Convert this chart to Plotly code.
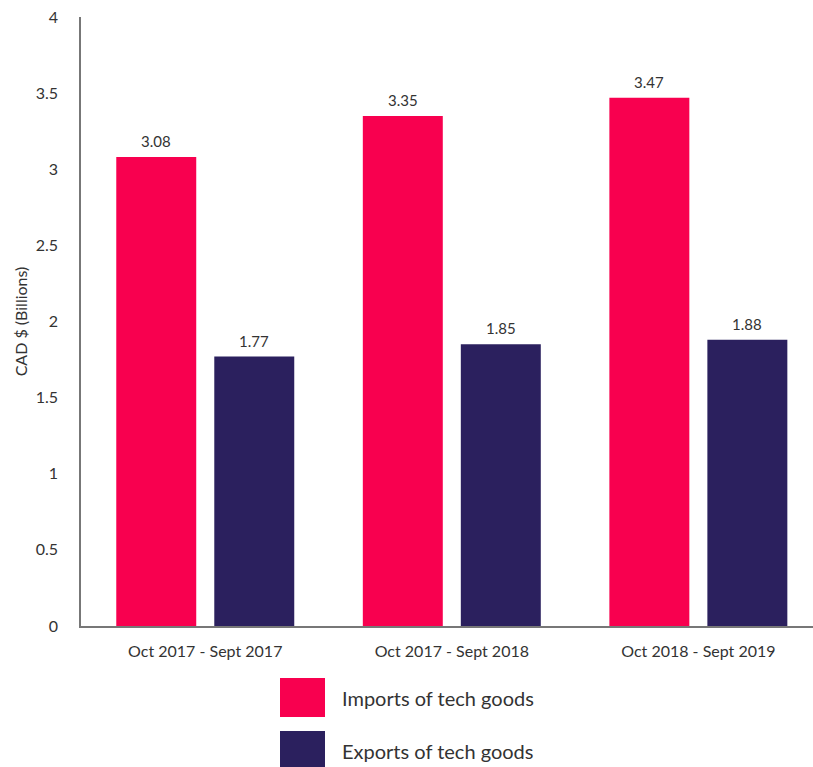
import plotly.graph_objects as go

# Trade in tech goods, CAD $ billions
periods = ["Oct 2017 - Sept 2017", "Oct 2017 - Sept 2018", "Oct 2018 - Sept 2019"]
imports = [3.08, 3.35, 3.47]
exports = [1.77, 1.85, 1.88]
series_names = ["Imports of tech goods", "Exports of tech goods"]
series_colors = ["#F8004F", "#2B205E"]

W, H = 813, 767
ML, MR, MT, MB = 81, 0, 17, 141
plot_w = W - ML - MR
plot_h = H - MT - MB

FONT = "Lato, 'Open Sans', sans-serif"
TXT = "#333333"

fig = go.Figure()
for i, (name, vals, col) in enumerate(zip(series_names, [imports, exports], series_colors)):
    fig.add_trace(go.Bar(
        x=periods, y=vals, name=name,
        marker=dict(color=col, line=dict(width=0)),
        offsetgroup=str(i),
        showlegend=False,
    ))

# value labels above each bar (group offsets: slot width = (1 - bargap) / 2)
BARGAP = 0.205
slot = (1 - BARGAP) / 2
for i, vals in enumerate([imports, exports]):
    off = (i - 0.5) * slot
    for j, v in enumerate(vals):
        fig.add_annotation(x=j + off, y=v, text=f"{v:.2f}", showarrow=False,
                           xref="x", yref="y", yanchor="middle", yshift=16,
                           font=dict(family=FONT, size=15, color=TXT))

# custom legend below the chart: large colour keys with labels
def py(pix):
    return (H - MB - pix) / plot_h

def px(pix):
    return (pix - ML) / plot_w

key_rows = [(678, 717), (731, 770)]
for (top, bot), name, col in zip(key_rows, series_names, series_colors):
    fig.add_shape(type="rect", xref="paper", yref="paper",
                  x0=px(280), x1=px(325), y0=py(bot), y1=py(top),
                  fillcolor=col, line=dict(width=0))
    fig.add_annotation(xref="paper", yref="paper", x=px(340), y=py((top + bot) / 2),
                       text=name, showarrow=False, xanchor="left", yanchor="middle",
                       font=dict(family=FONT, size=20, color=TXT))

fig.update_layout(
    width=W, height=H,
    margin=dict(l=ML, r=MR, t=MT, b=MB, pad=0),
    paper_bgcolor="white", plot_bgcolor="white",
    barmode="group", bargap=BARGAP, bargroupgap=0.184,
    font=dict(family=FONT, color=TXT),
)
fig.update_xaxes(
    range=[-0.504, 2.465],
    showline=True, linecolor="#777777", linewidth=1.5,
    showgrid=False, ticks="",
    ticklabelstandoff=10,
    tickfont=dict(family=FONT, size=16, color=TXT),
)
fig.update_yaxes(
    range=[0, 4], dtick=0.5,
    showline=True, linecolor="#777777", linewidth=1.5,
    showgrid=False, zeroline=False, ticks="",
    ticklabelstandoff=18,
    tickfont=dict(family=FONT, size=16, color=TXT),
    title=dict(text="CAD $ (Billions)", font=dict(family=FONT, size=16, color=TXT), standoff=4),
)

fig.write_html("out.html")
